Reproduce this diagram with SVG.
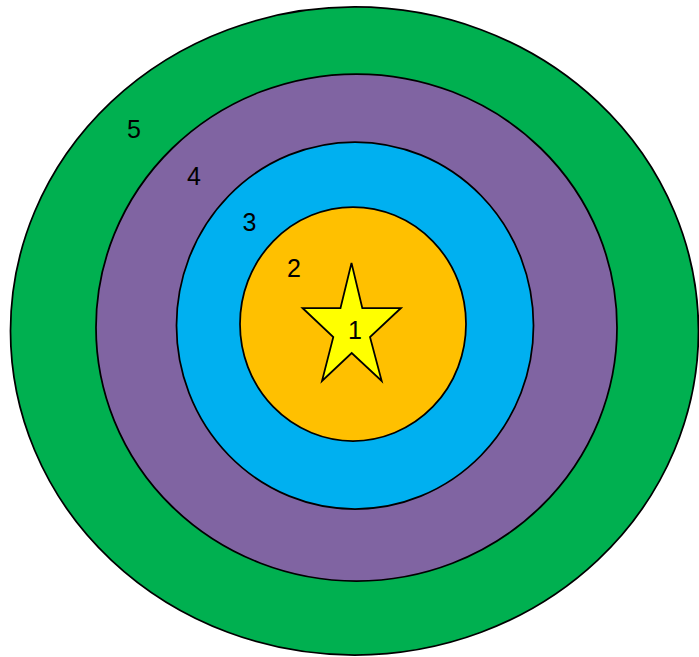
<svg xmlns="http://www.w3.org/2000/svg" width="699" height="657" viewBox="0 0 699 657">
<style>
.ring{stroke:#000;stroke-width:1.75}
.lbl{font-family:"Liberation Sans","DejaVu Sans",sans-serif;font-size:25px;fill:#000;text-anchor:middle}
</style>
<rect width="699" height="657" fill="#fff"/>
<g id="ring5"><ellipse class="ring" cx="354.5" cy="331" rx="344" ry="324" fill="#00B050"/><text class="lbl" x="134" y="138">5</text></g>
<g id="ring4"><ellipse class="ring" cx="356.5" cy="327.5" rx="260.5" ry="253.5" fill="#8064A2"/><text class="lbl" x="194" y="185">4</text></g>
<g id="ring3"><ellipse class="ring" cx="355" cy="325.5" rx="178.5" ry="183.5" fill="#00B0F0"/><text class="lbl" x="249.5" y="231">3</text></g>
<g id="ring2"><ellipse class="ring" cx="353" cy="324" rx="113" ry="117" fill="#FFC000"/><text class="lbl" x="294" y="277">2</text></g>
<g id="star1"><polygon class="ring" fill="#FFFF00" points="351.5,263 340.5,308 302.5,308 333.3,337 322,381 351.7,353 381.7,381 370,337 401,308 362.3,308"/><text class="lbl" x="355" y="339">1</text></g>
</svg>
